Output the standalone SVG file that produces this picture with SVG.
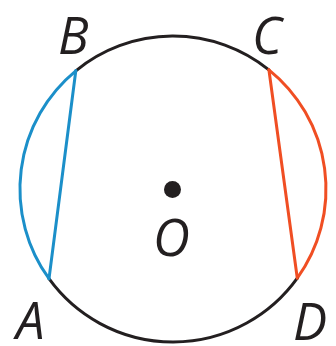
<svg xmlns="http://www.w3.org/2000/svg" width="336" height="346" viewBox="0 0 336 346">
<style>
.lbl{font-family:"Open Sans","Liberation Sans",sans-serif;font-style:italic;font-size:51px;fill:#231f20}
.k{fill:none;stroke:#231f20;stroke-width:3}
.b{fill:none;stroke:#1b8fc9;stroke-width:3}
.r{fill:none;stroke:#f04e23;stroke-width:3}
</style>
<rect width="336" height="346" fill="#fff"/>
<g id="connectors" stroke-linecap="round" stroke-linejoin="round">
<path class="k" d="M75.8,70.8 A153,153 0 0 1 268.9,69.8"/>
<path class="r" d="M268.9,69.8 A153,153 0 0 1 297.3,278.2"/>
<path class="k" d="M297.3,278.2 A153,153 0 0 1 49,278.7"/>
<path class="b" d="M49,278.7 A153,153 0 0 1 75.8,70.8"/>
<line class="b" x1="75.8" y1="70.8" x2="49" y2="278.7"/>
<line class="r" x1="268.9" y1="69.8" x2="297.3" y2="278.2"/>
</g>
<g id="B"><text class="lbl" x="58" y="54">B</text></g>
<g id="C"><text class="lbl" x="252" y="54">C</text></g>
<g id="A"><text class="lbl" x="16" y="339">A</text></g>
<g id="D"><text class="lbl" x="293" y="340">D</text></g>
<g id="O"><circle cx="172.5" cy="189.5" r="8.5" fill="#231f20"/><text class="lbl" x="153" y="256">O</text></g>
</svg>
